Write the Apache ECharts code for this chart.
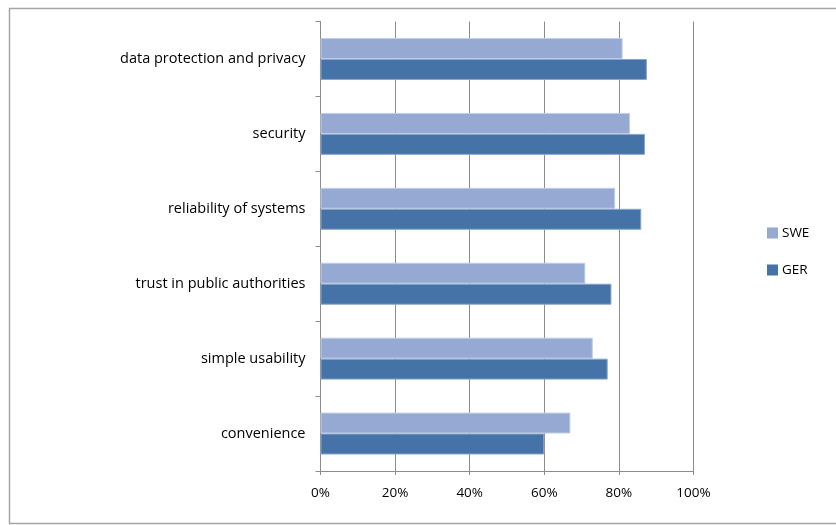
<!DOCTYPE html>
<html>
<head>
<meta charset="utf-8">
<script src="https://cdn.jsdelivr.net/npm/echarts@6/dist/echarts.min.js"></script>
<style>
  html, body { margin: 0; padding: 0; background: #fff; }
  #chart { width: 836px; height: 525px; }
</style>
</head>
<body>
<div id="chart"></div>
<script>
// categories, top to bottom
const categories = [
  'data protection and privacy',
  'security',
  'reliability of systems',
  'trust in public authorities',
  'simple usability',
  'convenience'
]
const sweValues = [81, 83, 79, 71, 73, 67]
const gerValues = [87.5, 87, 86, 78, 77, 60]
const xTicks = [0, 20, 40, 60, 80, 100]

const font = '"Open Sans", Lato, sans-serif'
const gray = '#8c8c8c'

let chart = echarts.init(document.getElementById('chart'))
chart.setOption({
  animation: false,
  graphic: [{
    type: 'rect',
    shape: { x: 9.5, y: 8.5, width: 840, height: 515 },
    style: { fill: 'none', stroke: '#a6a6a6', lineWidth: 1.5 },
    silent: true
  }],
  legend: {
    orient: 'vertical',
    left: 762,
    top: 221,
    itemWidth: 11,
    itemHeight: 11,
    itemGap: 23,
    icon: 'rect',
    itemStyle: { borderWidth: 0 },
    textStyle: { fontFamily: font, fontSize: 13.5, color: '#000', padding: [0, 0, 0, -1] },
    data: ['SWE', 'GER']
  },
  grid: {
    left: 320.5,
    right: 142.5,
    top: 21.5,
    bottom: 54
  },
  xAxis: {
    type: 'value',
    min: xTicks[0],
    max: xTicks[xTicks.length - 1],
    interval: 20,
    axisLine: { show: true, lineStyle: { color: gray } },
    axisTick: { show: true, length: 4, lineStyle: { color: gray } },
    splitLine: { show: true, lineStyle: { color: gray, width: 1 } },
    axisLabel: {
      formatter: v => v + '%',
      fontFamily: font,
      fontSize: 13.5,
      color: '#000',
      margin: 15
    }
  },
  yAxis: {
    type: 'category',
    inverse: true,
    data: categories,
    axisLine: { show: true, lineStyle: { color: gray } },
    axisTick: { show: true, length: 5, lineStyle: { color: gray } },
    axisLabel: {
      fontFamily: font,
      fontSize: 14.5,
      color: '#000',
      margin: 15
    }
  },
  series: [
    {
      name: 'SWE',
      type: 'bar',
      data: sweValues,
      barGap: '0%',
      barCategoryGap: '44%',
      itemStyle: { color: '#95a9d2', borderColor: '#c3cfe6', borderWidth: 1 }
    },
    {
      name: 'GER',
      type: 'bar',
      data: gerValues,
      barGap: '0%',
      barCategoryGap: '44%',
      itemStyle: { color: '#4573a7', borderColor: '#8aa6cc', borderWidth: 1 }
    }
  ]
})
</script>
</body>
</html>
